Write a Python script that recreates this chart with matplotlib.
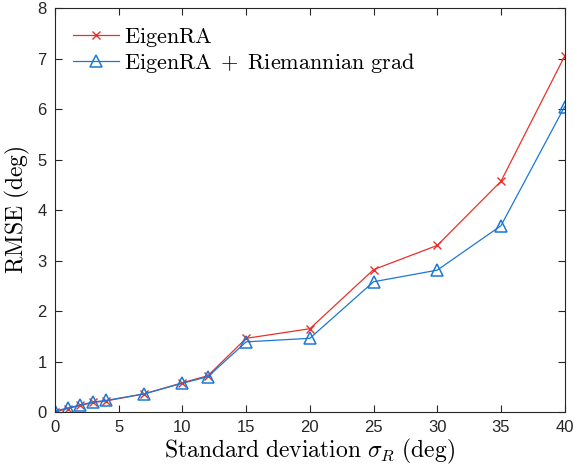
import matplotlib
matplotlib.use("Agg")
import matplotlib.pyplot as plt

plt.rcParams['mathtext.fontset'] = 'cm'
plt.rcParams['font.family'] = ['Liberation Sans', 'DejaVu Sans']

sigma = [0, 1, 2, 3, 4, 7, 10, 12, 15, 20, 25, 30, 35, 40]
rmse_eigen = [0.0, 0.07, 0.13, 0.19, 0.22, 0.36, 0.58, 0.72, 1.46, 1.65, 2.82, 3.30, 4.57, 7.05]
rmse_riem = [0.02, 0.08, 0.14, 0.20, 0.23, 0.36, 0.57, 0.70, 1.39, 1.46, 2.58, 2.81, 3.69, 6.05]
xticks = [0, 5, 10, 15, 20, 25, 30, 35, 40]
yticks = [0, 1, 2, 3, 4, 5, 6, 7, 8]

red = '#e8312a'
blue = '#1a78d6'
axcol = '#262626'

fig = plt.figure(figsize=(5.74, 4.72), dpi=100)
ax = fig.add_axes([0.0958, 0.127, 0.888, 0.856])

ax.plot(sigma, rmse_eigen, color=red, lw=0.9, marker='x', ms=6, mew=1.0,
        label=r'$\mathrm{EigenRA}$')
ax.plot(sigma, rmse_riem, color=blue, lw=0.9, marker='^', ms=9, mew=1.1,
        mfc='none', label=r'$\mathrm{EigenRA}\;+\;\mathrm{Riemannian\ grad}$')

ax.set_xlim(0, 40)
ax.set_ylim(0, 8)
ax.set_xticks(xticks)
ax.set_yticks(yticks)
ax.tick_params(direction='in', length=5, width=0.8, colors=axcol, labelsize=12,
               top=True, right=True, pad=6)
for s in ax.spines.values():
    s.set_color(axcol)
    s.set_linewidth(0.8)
for lbl in ax.get_xticklabels() + ax.get_yticklabels():
    lbl.set_color(axcol)

ax.set_xlabel(r'$\mathrm{Standard\ deviation}\ \sigma_R\ \mathrm{(deg)}$', fontsize=17, labelpad=1)
ax.set_ylabel(r'$\mathrm{RMSE\ (deg)}$', fontsize=17, labelpad=4)

leg = ax.legend(loc='upper left', frameon=False, fontsize=16, handlelength=2.1,
                handletextpad=0.2, borderaxespad=0.3, borderpad=0.5, labelspacing=0.1)

fig.savefig('out.png', dpi=100)
